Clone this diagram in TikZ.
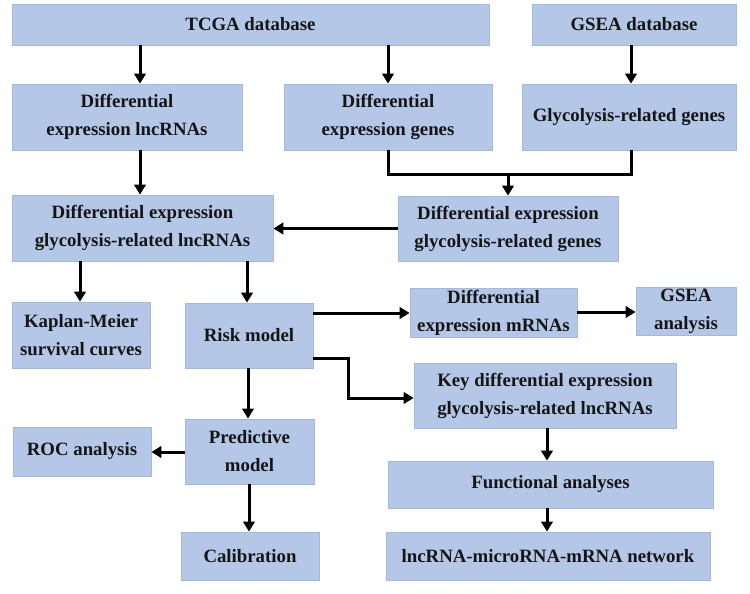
\documentclass[tikz,border=0pt]{standalone}
\usepackage{fontspec}
\setmainfont{Liberation Serif}
\usetikzlibrary{arrows.meta,calc}
\definecolor{boxfill}{HTML}{B4C7E7}
\definecolor{boxline}{HTML}{A3B9E0}
\definecolor{txt}{HTML}{151515}
\tikzset{
  box/.style={draw=boxline,line width=0.8pt,fill=boxfill,inner sep=0pt,align=center,
    font=\fontsize{18.8}{28}\selectfont\bfseries,text=txt},
  arr/.style={line width=3pt,-{Triangle[length=10pt,width=11.5pt]}},
  ln/.style={line width=3pt},
}
% box from corners (x1,y1) to (x2,y2) in px, y downwards
\newcommand{\pbox}[6]{%
  \node[box,minimum width={(#4-#2)*1pt},minimum height={(#5-#3)*1pt}] (#1) at ({(#2+#4)/2*1pt},{-(#3+#5)/2*1pt}) {#6};}
\begin{document}
\begin{tikzpicture}[x=1pt,y=1pt]
\useasboundingbox (0,0) rectangle (750,-594);
\pbox{tcga}{12}{4}{489}{45}{TCGA database}
\pbox{gsea}{532}{4}{736}{45}{GSEA database}
\pbox{delnc}{12}{84}{242}{150}{Differential\\expression lncRNAs}
\pbox{degenes}{284}{84}{492}{150}{Differential\\expression genes}
\pbox{glyg}{522}{84}{736}{150}{Glycolysis-related genes}
\pbox{deglnc}{12}{195}{273}{261}{Differential expression\\glycolysis-related lncRNAs}
\pbox{deglg}{398}{196}{618}{261}{Differential expression\\glycolysis-related genes}
\pbox{km}{12}{302}{150}{368}{Kaplan-Meier\\survival curves}
\pbox{risk}{185}{303}{313}{368}{Risk model}
\pbox{demrna}{410}{288}{577}{337}{Differential\\expression mRNAs}
\pbox{gseaa}{636}{287}{736}{335}{GSEA\\analysis}
\pbox{key}{414}{363}{676}{428}{Key differential expression\\glycolysis-related lncRNAs}
\pbox{roc}{13}{427}{151}{476}{ROC analysis}
\pbox{pred}{185}{419}{314}{484}{Predictive\\model}
\pbox{cal}{181}{532}{319}{580}{Calibration}
\pbox{func}{388}{461}{713}{508}{Functional analyses}
\pbox{net}{386}{532}{710}{580}{lncRNA-microRNA-mRNA network}

\coordinate (merge) at (508,-174);
\draw[arr] (tcga.south -| 140,0) -- (delnc.north -| 140,0);
\draw[arr] (tcga.south -| degenes) -- (degenes.north);
\draw[arr] (gsea.south -| 631,0) -- (glyg.north -| 631,0);
\draw[arr] (delnc.south -| 140,0) -- (deglnc.north -| 140,0);
\draw[ln] (degenes.south) |- (merge -| 631,0) -- (glyg.south -| 631,0);
\draw[arr] (merge) -- (deglg.north -| merge);
\draw[arr] (deglg.west) -- (deglg.west -| deglnc.east);
\draw[arr] (deglnc.south -| 80,0) -- (km.north -| 80,0);
\draw[arr] (deglnc.south -| 247,0) -- (risk.north -| 247,0);
\draw[arr] (risk.east |- 0,-313) -- (demrna.west |- 0,-313);
\draw[arr] (demrna.east |- 0,-312) -- (gseaa.west |- 0,-312);
\draw[arr] (risk.east |- 0,-358) -| (348,-398) -- (key.west |- 0,-398);
\draw[arr] (risk.south -| 248,0) -- (pred.north -| 248,0);
\draw[arr] (pred.west |- 0,-452) -- (roc.east |- 0,-452);
\draw[arr] (pred.south -| 249,0) -- (cal.north -| 249,0);
\draw[arr] (key.south -| 547,0) -- (func.north -| 547,0);
\draw[arr] (func.south -| 547,0) -- (net.north -| 547,0);
\end{tikzpicture}
\end{document}
